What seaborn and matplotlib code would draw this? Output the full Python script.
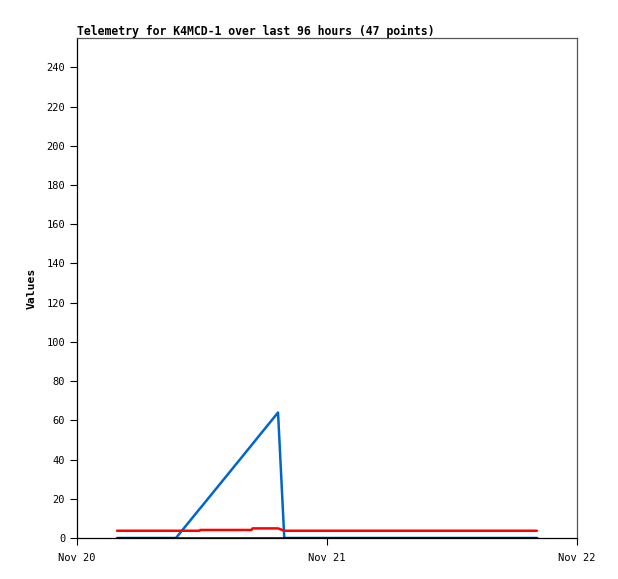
import pandas as pd
import matplotlib
matplotlib.use("Agg")
import matplotlib.pyplot as plt
import matplotlib.dates as mdates
import seaborn as sns

# hours after Nov 20 00:00 for each of the 47 telemetry points
hours = [3.85, 5.0, 6.2, 7.4, 8.5, 9.5, 11.75, 11.85, 16.75, 16.85, 19.3, 19.9,
         20.6, 21.3, 22.0, 22.7, 23.4, 24.1, 24.8, 25.5, 26.2, 26.9, 27.6, 28.3,
         29.0, 29.7, 30.4, 31.1, 31.8, 32.5, 33.2, 33.9, 34.6, 35.3, 36.0, 36.7,
         37.4, 38.1, 38.8, 39.5, 40.2, 40.9, 41.6, 42.3, 43.0, 43.6, 44.15]
blue_vals = [0, 0, 0, 0, 0, 0, 14.7, 15.3, 47.3, 48.0, 64, 0,
             0, 0, 0, 0, 0, 0, 0, 0, 0, 0, 0, 0,
             0, 0, 0, 0, 0, 0, 0, 0, 0, 0, 0, 0,
             0, 0, 0, 0, 0, 0, 0, 0, 0, 0, 0]
red_vals = [3.7, 3.7, 3.7, 3.7, 3.7, 3.7, 3.7, 4.1, 4.1, 4.9, 4.9, 3.7,
            3.7, 3.7, 3.7, 3.7, 3.7, 3.7, 3.7, 3.7, 3.7, 3.7, 3.7, 3.7,
            3.7, 3.7, 3.7, 3.7, 3.7, 3.7, 3.7, 3.7, 3.7, 3.7, 3.7, 3.7,
            3.7, 3.7, 3.7, 3.7, 3.7, 3.7, 3.7, 3.7, 3.7, 3.7, 3.7]
black_vals = [0] * 47

start = pd.Timestamp("2023-11-20")
df = pd.DataFrame({
    "time": start + pd.to_timedelta(hours, unit="h"),
    "blue": blue_vals,
    "red": red_vals,
    "black": black_vals,
})

sns.set_style("ticks")
plt.rcParams["font.family"] = ["DejaVu Sans Mono"]
plt.rcParams["text.color"] = "black"
plt.rcParams["axes.labelcolor"] = "black"

fig = plt.figure(figsize=(6.18, 5.79), dpi=100)
ax = fig.add_axes([77 / 618, 1 - 538 / 579, 500 / 618, 500 / 579])

lw = 1.8
sns.lineplot(data=df, x="time", y="blue", color="#0066cc", linewidth=lw, ax=ax, zorder=2)
sns.lineplot(data=df, x="time", y="red", color="#ff0000", linewidth=lw, ax=ax, zorder=3)
sns.lineplot(data=df, x="time", y="black", color="#000000", linewidth=lw, ax=ax, zorder=4)

ax.set_xlim(start, start + pd.Timedelta(hours=48))
ax.set_ylim(0, 255)
ax.set_yticks(range(0, 241, 20))
ax.xaxis.set_major_locator(mdates.DayLocator())
ax.xaxis.set_major_formatter(mdates.DateFormatter("%b %d"))

ax.tick_params(axis="both", labelsize=7.5, length=5, width=0.8, colors="black")
ax.tick_params(axis="x", pad=6)
for s in ["left", "bottom"]:
    ax.spines[s].set_color("black")
for s in ["top", "right"]:
    ax.spines[s].set_color("#555555")
for s in ax.spines.values():
    s.set_linewidth(0.9)

ax.set_xlabel("")
ax.set_ylabel("Values", fontsize=8.2, fontweight="bold", labelpad=7, color="black")
ax.set_title("Telemetry for K4MCD-1 over last 96 hours (47 points)", loc="left",
             fontsize=8.3, fontweight="bold", pad=2, color="black")

fig.savefig("out.png", dpi=100)
